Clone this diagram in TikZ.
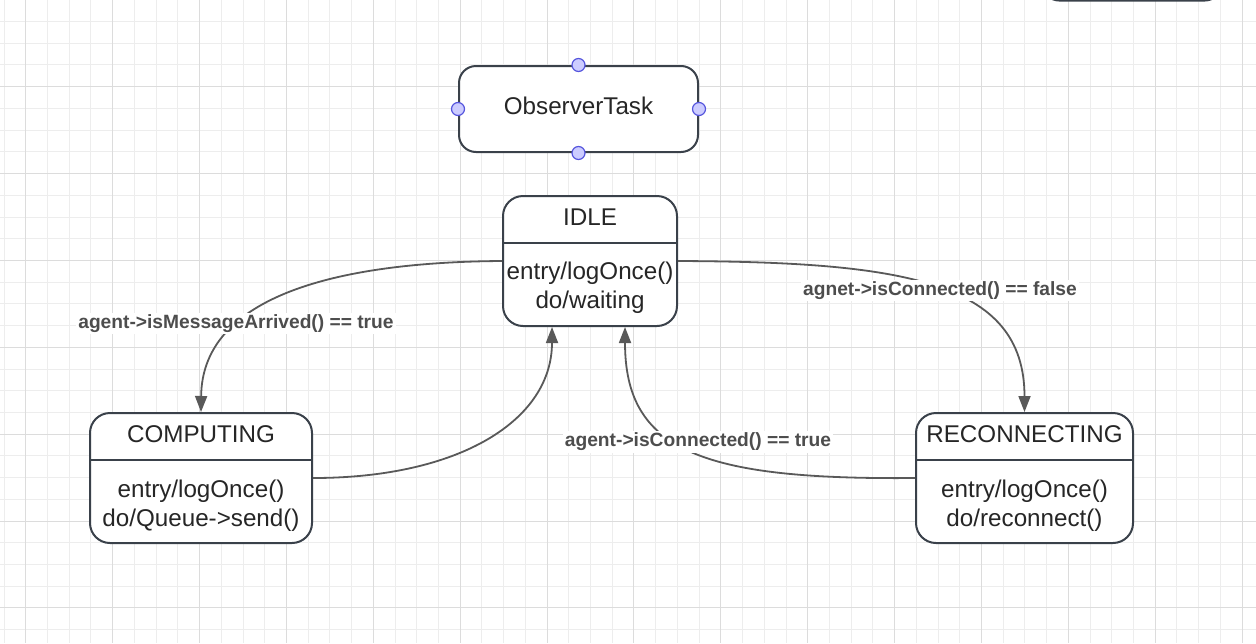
\documentclass[tikz,border=0pt]{standalone}
\usepackage{fontspec}
\setmainfont{Liberation Sans}
\usetikzlibrary{arrows.meta}

\definecolor{boxline}{HTML}{3A414A}
\definecolor{edgeline}{HTML}{595959}
\definecolor{labeltext}{HTML}{4D4D4D}
\definecolor{gridminor}{HTML}{EDEDED}
\definecolor{gridmajor}{HTML}{DCDCDC}
\definecolor{handlefill}{HTML}{CCCCFF}
\definecolor{handleline}{HTML}{5555DD}

\tikzset{
  statebox/.style={draw=boxline, line width=1pt, rounded corners=10pt, fill=white, inner sep=0pt},
  boxtext/.style={font=\fontsize{12.1}{14.5}\selectfont, text=black!85, align=center, inner sep=0pt},
  guard/.style={font=\fontsize{9.6}{11}\selectfont\bfseries, text=labeltext, fill=white, inner sep=1pt},
  trans/.style={draw=edgeline, line width=0.9pt, -{Triangle[length=8pt,width=6pt]}},
  handle/.style={circle, draw=handleline, fill=handlefill, line width=0.6pt, minimum size=6.5pt, inner sep=0pt},
  divider/.style={draw=boxline, line width=1pt}
}

\begin{document}
\begin{tikzpicture}[x=0.5pt, y=-0.5pt]
  \useasboundingbox (0,0) rectangle (1256,643);
  \clip (0,0) rectangle (1256,643);
  \fill[white] (0,0) rectangle (1256,643);

  \foreach \i in {0,...,57} { \draw[gridminor, line width=0.5pt] ({round(3.6+21.72*\i)+0.5},0) -- ++(0,643); }
  \foreach \i in {0,...,30} { \draw[gridminor, line width=0.5pt] (0,{round(-0.7+21.72*\i)+0.5}) -- ++(1256,0); }
  \foreach \i in {0,...,14} { \draw[gridmajor, line width=0.5pt] ({round(25.3+86.88*\i)+0.5},0) -- ++(0,643); }
  \foreach \i in {0,...,7} { \draw[gridmajor, line width=0.5pt] (0,{round(-0.7+86.88*\i)+0.5}) -- ++(1256,0); }

  \draw[boxline, line width=1pt, rounded corners=8pt] (1043,-30) -- (1043,0.5) -- (1221,0.5) -- (1221,-30);

  \node[statebox, rounded corners=8.5pt, minimum width=119.5pt, minimum height=43pt] (observer) at (578.5,109) {};
  \node[boxtext] (observerlabel) at ([yshift=1.5pt]observer.center) {ObserverTask};
  \node[handle] (handletop) at (observer.north) {};
  \node[handle] (handlebottom) at (observer.south) {};
  \node[handle] (handleleft) at (observer.west) {};
  \node[handle] (handleright) at (observer.east) {};

  \node[statebox, minimum width=87pt, minimum height=65pt] (idle) at (590,261) {};
  \draw[divider] ([yshift=-24pt]idle.north west) -- ([yshift=-24pt]idle.north east);
  \node[boxtext] (idletitle) at ([yshift=-11pt]idle.north) {IDLE};
  \node[boxtext] (idlebody) at ([yshift=-46.5pt]idle.north) {entry/logOnce()\\do/waiting};

  \node[statebox, minimum width=111pt, minimum height=65pt] (computing) at (201,478) {};
  \draw[divider] ([yshift=-24pt]computing.north west) -- ([yshift=-24pt]computing.north east);
  \node[boxtext] (computingtitle) at ([yshift=-11pt]computing.north) {COMPUTING};
  \node[boxtext] (computingbody) at ([yshift=-47pt]computing.north) {entry/logOnce()\\do/Queue->send()};

  \node[statebox, minimum width=108.5pt, minimum height=65pt] (reconnecting) at (1024.5,478) {};
  \draw[divider] ([yshift=-24pt]reconnecting.north west) -- ([yshift=-24pt]reconnecting.north east);
  \node[boxtext] (reconnectingtitle) at ([yshift=-11pt]reconnecting.north) {RECONNECTING};
  \node[boxtext] (reconnectingbody) at ([yshift=-47pt]reconnecting.north) {entry/logOnce()\\do/reconnect()};

  \draw[trans] (idle.west) .. controls (340,262) and (202,295) .. (computing.north);
  \draw[trans] (idle.east) .. controls (900,262) and (1024.5,280) .. (reconnecting.north);
  \draw[trans] (computing.east) .. controls (460,478) and ([xshift=-19pt]idle.south |- 0,420) .. ([xshift=-19pt]idle.south);
  \draw[trans] (reconnecting.west) .. controls (700,480) and ([xshift=17.5pt]idle.south |- 0,450) .. ([xshift=17.5pt]idle.south);

  \node[guard] (arrivedlabel) at (236,323.5) {agent->isMessageArrived() == true};
  \node[guard] (lostlabel) at (940,290.5) {agnet->isConnected() == false};
  \node[guard] (backlabel) at (698,441.5) {agent->isConnected() == true};
\end{tikzpicture}
\end{document}
